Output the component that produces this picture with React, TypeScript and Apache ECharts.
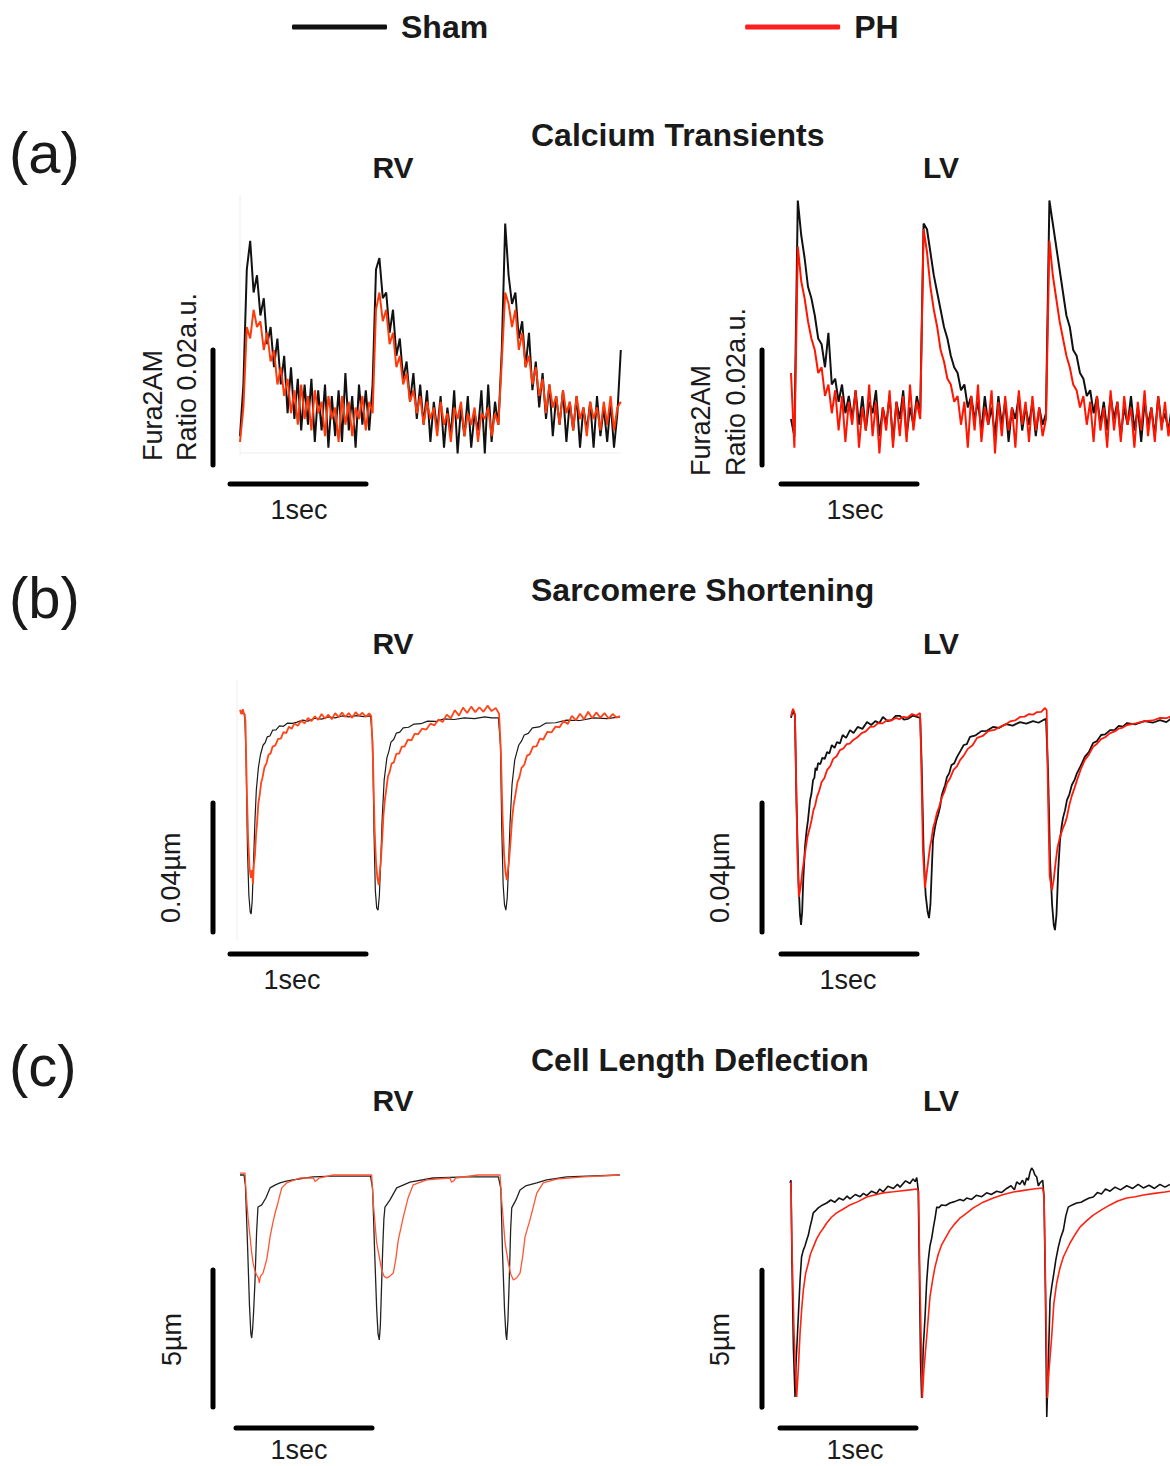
import React, { useEffect, useRef } from "react";
import * as echarts from "echarts";

// ---------- labels ----------
const LEGEND_NAMES = ["Sham", "PH"];
const PANEL_TITLES = ["Calcium Transients", "Sarcomere Shortening", "Cell Length Deflection"];
const PANEL_LETTERS = ["(a)", "(b)", "(c)"];
const SIDES = ["RV", "LV"];
const TIME_BAR_LABEL = "1sec";
const CA_LABELS = ["Fura2AM", "Ratio 0.02a.u."];
const SL_LABEL = "0.04µm";
const CL_LABEL = "5µm";

// ---------- scale bar sizes (data units) ----------
const TIME_BAR_MS = 1000; // 1 sec
const CA_BAR = 20; // 0.02 a.u. (units of 0.001 ratio)
const SL_BAR = 40; // 0.04 µm (in nm)
const CL_BAR = 5; // 5 µm

// ---------- (a) calcium transients: ratio above reference, units of 0.001, sampled every 25 ms ----------
const CA_DT_MS = 25;
const caRvSham = [
  5, 14, 34, 39, 30, 33, 26, 29, 21, 24,
  17, 22, 14, 19, 9, 17, 8, 15, 6, 14,
  7, 15, 4, 13, 6, 14, 3, 12, 5, 13,
  4, 16, 6, 12, 3, 14, 7, 13, 6, 14,
  34, 36, 29, 30, 23, 27, 19, 22, 15, 18,
  11, 16, 8, 14, 7, 13, 4, 11, 6, 12,
  3, 10, 5, 13, 2, 10, 5, 12, 3, 9,
  6, 13, 2, 14, 4, 11, 7, 20, 42, 33,
  28, 30, 22, 25, 17, 23, 13, 18, 10, 16,
  8, 14, 5, 12, 7, 13, 4, 11, 6, 12,
  3, 10, 6, 11, 3, 12, 5, 10, 4, 11,
  3, 9, 20,
];
const caRvPh = [
  4, 10, 24, 22, 27, 24, 25, 20, 23, 18,
  20, 14, 17, 12, 15, 9, 13, 7, 14, 8,
  12, 6, 13, 9, 11, 5, 12, 8, 10, 4,
  12, 7, 11, 5, 10, 8, 12, 6, 11, 9,
  27, 30, 25, 27, 21, 23, 17, 19, 14, 16,
  11, 13, 9, 12, 7, 11, 8, 10, 5, 11,
  7, 9, 4, 10, 8, 11, 5, 9, 7, 10,
  4, 9, 8, 10, 5, 9, 7, 18, 30, 28,
  24, 27, 20, 23, 17, 19, 14, 17, 12, 15,
  9, 14, 10, 12, 7, 13, 9, 11, 6, 12,
  8, 10, 5, 11, 8, 10, 6, 11, 7, 12,
  6, 10, 11,
];
const caLvSham = [
  8, 5, 46, 40, 36, 31, 29, 26, 22, 21,
  17, 23, 14, 15, 11, 14, 9, 12, 8, 13,
  7, 12, 6, 11, 9, 13, 5, 10, 7, 12,
  4, 11, 8, 13, 5, 10, 7, 12, 9, 42,
  41, 37, 33, 30, 27, 24, 22, 19, 17, 16,
  13, 14, 10, 12, 8, 11, 6, 12, 7, 10,
  5, 12, 7, 11, 4, 10, 8, 12, 6, 10,
  7, 11, 5, 10, 7, 9, 46, 42, 38, 34,
  30, 26, 24, 20, 19, 16, 15, 12, 13, 9,
  12, 7, 11, 6, 12, 8, 11, 5, 10, 7,
  12, 6, 10, 4, 11, 7, 10, 5, 12, 7,
  9, 6, 10,
];
const caLvPh = [
  16, 3, 38, 32, 29, 25, 22, 20, 16, 17,
  12, 14, 9, 13, 6, 12, 4, 11, 7, 13,
  3, 10, 6, 14, 5, 11, 2, 10, 6, 13,
  3, 11, 5, 12, 4, 14, 6, 11, 8, 41,
  37, 31, 27, 24, 20, 18, 15, 14, 11, 12,
  7, 11, 3, 12, 6, 14, 4, 10, 7, 13,
  2, 11, 5, 12, 6, 10, 3, 13, 7, 11,
  4, 12, 6, 10, 5, 8, 39, 33, 29, 25,
  22, 19, 17, 14, 13, 10, 12, 7, 11, 4,
  12, 6, 10, 3, 13, 6, 11, 4, 12, 7,
  10, 3, 11, 6, 13, 5, 10, 4, 12, 6,
  11, 5, 9,
];

// ---------- (b) sarcomere length change: [time ms, ΔSL nm] ----------
const slRvSham = [
  [0, 0.9], [20, 0.6], [35, 0.3], [45, -14], [55, -41.9], [65, -55.8], [75, -61.1], [82, -61.7], [90, -57.4], [100, -45],
  [110, -32.6], [120, -23.3], [135, -16.4], [150, -12.4], [170, -9.3], [185, -8.6], [200, -6.8], [220, -6.5], [240, -4.7], [265, -4.6],
  [290, -3.4], [320, -3.5], [350, -2.5], [385, -2.6], [420, -2.2], [460, -1.6], [500, -1.9], [550, -1.0], [600, -1.3], [650, -0.6],
  [700, -0.9], [750, -0.3], [800, -0.6], [860, -0.2], [910, -0.5], [960, -0.3],
  [975, -7.8], [985, -35.7], [995, -54.3], [1005, -59.8], [1015, -60.5], [1025, -55.8], [1035, -45], [1045, -32.6], [1060, -20.2], [1080, -13.3],
  [1095, -11.2], [1110, -8.4], [1130, -7.6], [1150, -5.6], [1175, -5.3], [1200, -4], [1240, -3.8], [1280, -2.8], [1330, -2.7], [1380, -1.9],
  [1440, -2.0], [1500, -1.2], [1575, -1.4], [1650, -0.9], [1725, -1.1], [1800, -0.6], [1850, -0.9], [1900, -0.9],
  [1915, -9.3], [1925, -35.7], [1935, -52.7], [1945, -58.9], [1955, -60.5], [1965, -56.7], [1975, -46.5], [1985, -34.1], [2000, -21.7], [2020, -14],
  [2035, -11.6], [2050, -9.3], [2070, -8.1], [2090, -6.2], [2120, -5.7], [2150, -4], [2200, -3.7], [2250, -2.5], [2320, -2.4], [2400, -1.6],
  [2500, -1.7], [2600, -0.9], [2700, -1.1], [2794, -0.6],
];
const slRvPh = [
  [0, 1.6], [10, 0.2], [20, 1.8], [30, 0.3], [40, -1.6], [50, -23.3], [60, -38.8], [70, -47.4], [80, -50.5], [88, -48.1],
  [95, -52.4], [102, -46.5], [110, -43.4], [118, -37.2], [126, -33.2], [135, -27.3], [145, -24.8], [155, -21.1], [165, -19.5], [180, -16.2],
  [195, -14.9], [210, -12.3], [225, -11.9], [240, -9.8], [260, -9.4], [280, -7.4], [300, -7.3], [320, -5.3], [340, -5.6], [360, -3.6],
  [380, -4.3], [400, -2.6], [425, -3.3], [450, -1.8], [475, -2.6], [500, -0.9], [525, -1.9], [550, -0.4], [575, -1.5], [600, 0.3],
  [625, -1.1], [650, 0.1], [675, -1.3], [700, 0.6], [725, -0.7], [750, 0.8], [775, -0.6], [800, 0.6], [825, -0.9], [850, 0.9],
  [875, -0.3], [900, 0.7], [925, -0.6], [950, 0.5], [965, -0.3],
  [978, -14], [990, -35.7], [1000, -45.6], [1010, -50.5], [1020, -52.7], [1028, -48.7], [1036, -45], [1045, -38.8], [1055, -31], [1065, -26.4],
  [1075, -23.3], [1088, -19.0], [1100, -17.7], [1115, -15.0], [1130, -14.8], [1150, -12.0], [1170, -12.0], [1190, -9.8], [1210, -9.8], [1235, -7.6],
  [1260, -7.9], [1285, -5.8], [1310, -6.0], [1340, -4.2], [1370, -4.5], [1400, -2.7], [1430, -3.2], [1460, -1.4], [1490, -2.2], [1520, 0.1],
  [1550, -1.0], [1580, 1.5], [1610, -0.2], [1640, 2.3], [1670, 0.6], [1700, 2.6], [1730, 0.9], [1760, 2.4], [1790, 1.0], [1820, 2.9],
  [1850, 1.2], [1880, 2.2], [1905, 0.4],
  [1918, -10.9], [1930, -31], [1942, -43.4], [1952, -48.7], [1962, -51.2], [1970, -48.1], [1980, -44.3], [1990, -38.8], [2000, -32.6], [2012, -27.9],
  [2025, -24.8], [2040, -20.8], [2055, -19.2], [2070, -16.4], [2090, -15.5], [2110, -12.6], [2130, -12.2], [2155, -9.8], [2180, -9.7], [2205, -7.3],
  [2230, -7.6], [2260, -5.2], [2290, -5.4], [2320, -3.6], [2350, -3.8], [2380, -1.8], [2410, -2.8], [2440, -0.3], [2470, -1.6], [2500, 0.4],
  [2530, -1.3], [2560, 1.0], [2590, -1.0], [2620, 0.8], [2650, -0.8], [2680, 0.6], [2710, -1.1], [2740, 0.3], [2770, -0.8], [2794, -0.3],
];
const slLvSham = [
  [0, -0.9], [15, 1.6], [29, -0.3], [40, -26.4], [55, -51.2], [66, -62], [74, -65.1], [82, -61.1], [90, -51.2], [103, -40.9],
  [115, -35.7], [125, -32.6], [140, -26.4], [150, -24.5], [162, -20.2], [172, -19.5], [180, -16.4], [190, -17.2], [199, -14.9], [215, -15.3],
  [230, -13.3], [248, -13.6], [265, -11.5], [282, -11.9], [300, -9.3], [320, -10.2], [338, -8.4], [360, -8.8], [380, -6.2], [405, -7.1],
  [434, -4.7], [460, -5.6], [490, -3.7], [525, -4.3], [559, -2.2], [590, -3.1], [620, -1.9], [650, -2.5], [676, -0.6], [710, -1.9],
  [740, -1.6], [770, -0.3], [801, -0.3], [830, -1.4], [860, -1.2], [895, -0.2], [926, -0.6], [950, -0.9],
  [960, -14], [975, -41.9], [990, -55.8], [1005, -61.1], [1015, -63], [1025, -58.9], [1035, -48.1], [1044, -38.8], [1058, -35], [1070, -32.6],
  [1083, -30.8], [1096, -28.5], [1108, -25], [1120, -23.3], [1133, -21.8], [1147, -19.2], [1163, -18.1], [1180, -15.5], [1200, -15], [1221, -13],
  [1245, -11.2], [1270, -9.3], [1293, -9.0], [1316, -6.8], [1358, -6.3], [1400, -5], [1440, -4.9], [1485, -3.7], [1530, -4.0], [1580, -2.8],
  [1630, -3.3], [1684, -2.2], [1730, -2.7], [1780, -1.9], [1820, -2.4], [1853, -1.6], [1875, -1.2],
  [1890, -17.1], [1905, -45], [1920, -58.9], [1932, -65.1], [1941, -66.7], [1952, -62], [1965, -48.1], [1978, -38.8], [1990, -34.5], [2000, -31.9],
  [2015, -29.5], [2029, -26.4], [2047, -24.6], [2065, -21.7], [2085, -20.1], [2103, -18], [2130, -15.8], [2160, -13], [2190, -11.5], [2221, -8.7],
  [2250, -8.1], [2280, -6.2], [2310, -6.0], [2346, -4.7], [2380, -4.6], [2410, -3.4], [2440, -3.6], [2471, -2.5], [2530, -2.9], [2600, -1.9],
  [2660, -2.4], [2713, -1.6], [2760, -2.2], [2801, -0.9],
];
const slLvPh = [
  [0, -0.3], [15, 1.9], [29, 0.3], [38, -20.2], [48, -45], [58, -56.4], [70, -53.6], [85, -48], [103, -42.8], [120, -38],
  [140, -34.7], [152, -32.4], [165, -29.5], [178, -28], [191, -25.4], [208, -23.4], [225, -20.8], [245, -19.6], [265, -17.1], [288, -15.9],
  [310, -13.6], [335, -12.8], [360, -10.9], [385, -10.4], [410, -9], [432, -8.9], [456, -7.8], [488, -6.9], [520, -5.6], [550, -5.1],
  [581, -3.7], [610, -3.6], [640, -2.5], [673, -2.6], [706, -1.6], [738, -1.7], [770, -0.9], [797, -1.3], [824, -0.6], [857, -0.8],
  [890, 0.3], [920, -0.2], [949, 0.6],
  [958, -15], [970, -42], [985, -53.6], [998, -49], [1010, -45], [1022, -40.9], [1033, -38.6], [1045, -35], [1058, -33.1], [1073, -30.4],
  [1090, -28.4], [1110, -25.5], [1128, -23.8], [1147, -21.1], [1170, -19.6], [1195, -17], [1220, -15.9], [1243, -14], [1270, -12.6], [1300, -10.5],
  [1335, -9.4], [1368, -7.1], [1410, -6.5], [1450, -5], [1495, -4.6], [1537, -3.7], [1575, -3.0], [1610, -2], [1648, -1.7], [1684, -0.6],
  [1718, -0.5], [1750, 0.3], [1780, 0.1], [1809, 0.9], [1840, 1.0], [1868, 2.2], [1880, 1.5],
  [1890, -25], [1902, -50], [1919, -54.3], [1932, -51], [1945, -46], [1960, -41], [1978, -37.8], [2000, -35], [2015, -33.6], [2029, -31.6],
  [2047, -27.8], [2065, -25], [2085, -22.6], [2103, -20.2], [2130, -16.9], [2160, -14], [2190, -12.3], [2221, -9.9], [2250, -8.9], [2280, -7.5],
  [2310, -6.9], [2346, -5.6], [2380, -5.1], [2410, -4.2], [2440, -3.9], [2471, -3.1], [2535, -2.6], [2600, -1.9], [2660, -1.7], [2713, -0.9],
  [2760, -1.0], [2801, -0.3],
];

// ---------- (c) cell length change: [time ms, ΔL µm] ----------
const clRvSham = [
  [0, 0], [30, 0], [40, -0.4], [55, -2.5], [70, -4.8], [80, -5.8], [86, -5.95], [93, -5.6], [100, -5.0], [110, -3.9],
  [122, -2.1], [132, -1.17], [160, -1.09], [190, -0.84], [221, -0.47], [260, -0.36], [294, -0.29], [340, -0.22], [390, -0.18], [480, -0.11],
  [537, -0.07], [684, -0.04], [960, -0.04],
  [975, -0.5], [990, -2.8], [1005, -4.9], [1015, -5.8], [1024, -6.02], [1032, -5.5], [1040, -4.2], [1049, -2.74], [1058, -1.6], [1066, -1.17],
  [1103, -0.91], [1152, -0.47], [1250, -0.26], [1419, -0.11], [1667, -0.07], [1900, -0.07],
  [1918, -0.5], [1930, -2.8], [1945, -4.9], [1955, -5.8], [1961, -6.02], [1970, -5.3], [1980, -3.8], [1990, -2.0], [1998, -1.2], [2030, -0.9],
  [2059, -0.55], [2100, -0.4], [2182, -0.29], [2255, -0.18], [2402, -0.07], [2794, 0],
];
const clRvPh = [
  [0, 0.07], [37, 0.07], [42, -0.4], [49, -0.91], [60, -1.6], [74, -2.26], [85, -2.8], [96, -3.21], [110, -3.5], [123, -3.65],
  [135, -3.76], [142, -3.94], [150, -3.7], [169, -3.58], [196, -3.1], [210, -2.65], [221, -2.26], [243, -1.71], [260, -1.35], [279, -1.02],
  [295, -0.7], [307, -0.47], [343, -0.29], [441, -0.11], [540, -0.11], [552, -0.24], [564, -0.2], [580, -0.11], [684, 0], [960, 0],
  [968, 0], [980, -1.02], [1005, -2.48], [1042, -3.47], [1060, -3.7], [1079, -3.76], [1100, -3.7], [1127, -3.58], [1145, -3.1], [1164, -2.37],
  [1201, -1.53], [1238, -0.8], [1274, -0.36], [1373, -0.18], [1544, -0.11], [1555, -0.26], [1570, -0.22], [1585, -0.11], [1750, 0], [1905, 0],
  [1912, 0], [1924, -0.91], [1949, -2.48], [1973, -3.21], [1990, -3.6], [2010, -3.83], [2035, -3.75], [2059, -3.58], [2078, -3.0], [2096, -2.26],
  [2132, -1.64], [2160, -1.1], [2182, -0.66], [2230, -0.29], [2329, -0.15], [2524, -0.07], [2794, 0],
];
const clLvSham = [
  [0, 0], [7, 0.1], [15, -3.0], [25, -6.0], [37, -7.81], [45, -6.5], [55, -5.5], [61, -4.89], [74, -3.54], [85, -2.7],
  [98, -2.45], [110, -2.3], [123, -2.08], [135, -1.9], [147, -1.61], [160, -1.35], [171, -1.09], [190, -1.0], [208, -0.91], [240, -0.8],
  [270, -0.73], [300, -0.62], [330, -0.7], [360, -0.55], [392, -0.62], [420, -0.48], [441, -0.58], [480, -0.42], [515, -0.5], [540, -0.38],
  [564, -0.46], [600, -0.3], [637, -0.38], [660, -0.22], [686, -0.32], [720, -0.12], [760, -0.2], [790, -0.05], [809, -0.15], [850, 0.08],
  [882, -0.02], [905, 0.15], [920, 0.05], [932, 0.2], [943, -0.26],
  [951, -3.0], [960, -6.5], [968, -7.85], [980, -6.0], [993, -4.89], [1005, -3.6], [1017, -2.81], [1029, -2.3], [1042, -2.01], [1055, -1.6],
  [1066, -1.3], [1079, -0.88], [1095, -0.9], [1115, -0.8], [1145, -0.82], [1176, -0.73], [1210, -0.68], [1250, -0.6], [1275, -0.65], [1299, -0.55],
  [1335, -0.6], [1370, -0.45], [1410, -0.5], [1446, -0.36], [1480, -0.42], [1520, -0.3], [1555, -0.35], [1593, -0.2], [1625, -0.1], [1650, -0.25],
  [1667, 0.04], [1690, -0.05], [1710, 0.1], [1725, -0.08], [1740, 0.18], [1752, 0.1], [1765, 0.4], [1777, 0.55], [1790, 0.45], [1800, 0.3],
  [1814, 0.22], [1826, -0.1], [1838, 0], [1858, 0.1],
  [1868, -0.5], [1878, -4.0], [1888, -8.54], [1900, -6.5], [1912, -4.27], [1924, -3.8], [1936, -3.43], [1955, -2.8], [1973, -2.34], [1990, -2.0],
  [2010, -1.72], [2028, -1.2], [2046, -0.88], [2075, -0.8], [2108, -0.73], [2140, -0.7], [2170, -0.62], [2200, -0.55], [2230, -0.51], [2260, -0.35],
  [2290, -0.4], [2320, -0.22], [2353, -0.3], [2390, -0.15], [2430, -0.25], [2476, -0.1], [2520, -0.2], [2560, -0.05], [2598, -0.18], [2640, -0.08],
  [2680, -0.2], [2720, -0.05], [2757, -0.15], [2794, -0.05],
];
const clLvPh = [
  [0, 0], [7, 0], [15, -2.5], [30, -5.5], [49, -7.81], [61, -6.8], [74, -5.47], [86, -4.6], [98, -3.91], [115, -3.3],
  [135, -2.92], [150, -2.6], [171, -2.34], [195, -2.05], [221, -1.82], [245, -1.65], [270, -1.46], [305, -1.25], [343, -1.09], [392, -0.95],
  [441, -0.8], [500, -0.68], [564, -0.51], [637, -0.42], [686, -0.36], [760, -0.32], [809, -0.29], [882, -0.25], [932, -0.22], [945, -0.3],
  [955, -3.5], [973, -7.85], [985, -6.8], [1005, -5.62], [1029, -4.16], [1050, -3.5], [1066, -3.07], [1090, -2.6], [1115, -2.26], [1150, -1.95],
  [1176, -1.72], [1210, -1.5], [1250, -1.28], [1299, -1.1], [1348, -0.91], [1420, -0.7], [1495, -0.55], [1570, -0.42], [1642, -0.33], [1720, -0.27],
  [1789, -0.22], [1858, -0.18],
  [1868, -0.5], [1880, -4.0], [1892, -7.85], [1905, -6.8], [1924, -5.62], [1940, -4.4], [1961, -3.65], [1985, -3.1], [2010, -2.7], [2059, -2.19],
  [2100, -1.85], [2132, -1.61], [2180, -1.38], [2230, -1.17], [2290, -0.98], [2353, -0.8], [2410, -0.66], [2476, -0.55], [2540, -0.5], [2598, -0.44],
  [2680, -0.38], [2757, -0.33], [2794, -0.3],
];

// ---------- layout ----------
const W = 1170;
const H = 1466;
const PX_PER_MS = 0.136;
const FONT = '"Liberation Sans", Arial, Helvetica, sans-serif';
const TEXT_COLOR = "#1a1a1a";

type Panel = {
  x0: number; y0: number; ppu: number;
  xMin: number; xMax: number; yMin: number; yMax: number;
  vBarT: number; vBarFrom: number; vBarLen: number;
  hBarV: number; hBarT0: number;
  sham: number[][]; ph: number[][];
  shamColor: string; phColor: string; shamWidth: number; phWidth: number;
};

const toPairs = (arr: number[]) => arr.map((v, i) => [i * CA_DT_MS, v]);

const panels: Panel[] = [
  { x0: 240, y0: 465, ppu: 5.75, xMin: -260, xMax: 2860, yMin: -6, yMax: 48,
    vBarT: -198.5, vBarFrom: 0, vBarLen: CA_BAR, hBarV: -3.3, hBarT0: -73.5,
    sham: toPairs(caRvSham), ph: toPairs(caRvPh), shamColor: "#111111", phColor: "#ff3a0a", shamWidth: 2, phWidth: 2 },
  { x0: 791, y0: 465, ppu: 5.75, xMin: -260, xMax: 2785, yMin: -6, yMax: 48,
    vBarT: -213, vBarFrom: 0, vBarLen: CA_BAR, hBarV: -3.3, hBarT0: -73.5,
    sham: toPairs(caLvSham), ph: toPairs(caLvPh), shamColor: "#111111", phColor: "#ff1500", shamWidth: 2, phWidth: 2 },
  { x0: 240, y0: 715, ppu: 3.225, xMin: -260, xMax: 2860, yMin: -80, yMax: 12,
    vBarT: -198.5, vBarFrom: -67.3, vBarLen: SL_BAR, hBarV: -74.1, hBarT0: -73.5,
    sham: slRvSham, ph: slRvPh, shamColor: "#1a1a1a", phColor: "#ff4518", shamWidth: 1.2, phWidth: 1.8 },
  { x0: 791, y0: 715, ppu: 3.225, xMin: -260, xMax: 2785, yMin: -80, yMax: 12,
    vBarT: -213, vBarFrom: -67.3, vBarLen: SL_BAR, hBarV: -74.1, hBarT0: -73.5,
    sham: slLvSham, ph: slLvPh, shamColor: "#111111", phColor: "#ff1a0a", shamWidth: 1.8, phWidth: 1.8 },
  { x0: 240, y0: 1175, ppu: 27.4, xMin: -260, xMax: 2860, yMin: -10, yMax: 1.2,
    vBarT: -198.5, vBarFrom: -8.47, vBarLen: CL_BAR, hBarV: -9.23, hBarT0: -29.4,
    sham: clRvSham, ph: clRvPh, shamColor: "#222222", phColor: "#ff5533", shamWidth: 1.3, phWidth: 1.3 },
  { x0: 790, y0: 1183, ppu: 27.4, xMin: -260, xMax: 2790, yMin: -10, yMax: 1.2,
    vBarT: -206, vBarFrom: -8.18, vBarLen: CL_BAR, hBarV: -8.94, hBarT0: -73.5,
    sham: clLvSham, ph: clLvPh, shamColor: "#111111", phColor: "#ff2211", shamWidth: 1.6, phWidth: 1.6 },
];

function buildOption() {
  const grid: any[] = [];
  const xAxis: any[] = [];
  const yAxis: any[] = [];
  const series: any[] = [];

  panels.forEach((p, i) => {
    grid.push({
      left: p.x0 + p.xMin * PX_PER_MS,
      top: p.y0 - p.yMax * p.ppu,
      width: (p.xMax - p.xMin) * PX_PER_MS,
      height: (p.yMax - p.yMin) * p.ppu,
      containLabel: false,
    });
    xAxis.push({ type: "value", gridIndex: i, min: p.xMin, max: p.xMax, show: false });
    yAxis.push({ type: "value", gridIndex: i, min: p.yMin, max: p.yMax, show: false });

    const base = { type: "line", xAxisIndex: i, yAxisIndex: i, showSymbol: false, symbol: "none", silent: true, animation: false };
    series.push({ ...base, name: LEGEND_NAMES[0], data: p.sham, lineStyle: { color: p.shamColor, width: p.shamWidth }, itemStyle: { color: p.shamColor }, z: 2 });
    series.push({ ...base, name: LEGEND_NAMES[1], data: p.ph, lineStyle: { color: p.phColor, width: p.phWidth }, itemStyle: { color: p.phColor }, z: 3 });
    // scale bars
    series.push({ ...base, name: "vbar" + i, clip: false,
      data: [[p.vBarT, p.vBarFrom], [p.vBarT, p.vBarFrom + p.vBarLen]],
      lineStyle: { color: "#000", width: 5, cap: "round" }, z: 4 });
    series.push({ ...base, name: "hbar" + i, clip: false,
      data: [[p.hBarT0, p.hBarV], [p.hBarT0 + TIME_BAR_MS, p.hBarV]],
      lineStyle: { color: "#000", width: 5, cap: "round" }, z: 4 });
  });

  // faint axis remnants in the RV panels
  const faint = { type: "line", showSymbol: false, symbol: "none", silent: true, animation: false, lineStyle: { color: "#eeeeee", width: 1 }, z: 1 };
  series.push({ ...faint, name: "ax0v", xAxisIndex: 0, yAxisIndex: 0, data: [[0, 1.7], [0, 47]] });
  series.push({ ...faint, name: "ax0h", xAxisIndex: 0, yAxisIndex: 0, data: [[0, 2.1], [2800, 2.1]] });
  series.push({ ...faint, name: "ax2v", xAxisIndex: 2, yAxisIndex: 2, data: [[-22, 10.9], [-22, -69.8]] });

  const txt = (text: string, x: number, y: number, size: number, weight: string, align: string, rotation = 0) => ({
    type: "text",
    x, y, rotation,
    silent: true,
    style: {
      text, x: 0, y: 0,
      fontSize: size, fontWeight: weight, fontFamily: FONT,
      fill: TEXT_COLOR,
      textAlign: align, align,
      textVerticalAlign: "middle", verticalAlign: "middle",
    },
  });

  const titleY = [135, 590, 1060];
  const sideY = [167, 643, 1100];
  const letterY = [152, 597, 1065];
  const secY = [510, 980, 1450];
  const secX = [[299, 855], [292, 848], [299, 855]];
  const elements: any[] = [];
  for (let r = 0; r < 3; r++) {
    elements.push(txt(PANEL_TITLES[r], 531, titleY[r], 32, "bold", "left"));
    elements.push(txt(SIDES[0], 393, sideY[r], 30, "bold", "center"));
    elements.push(txt(SIDES[1], 941, sideY[r], 30, "bold", "center"));
    elements.push(txt(PANEL_LETTERS[r], 9, letterY[r], 58, "normal", "left"));
    elements.push(txt(TIME_BAR_LABEL, secX[r][0], secY[r], 27, "normal", "center"));
    elements.push(txt(TIME_BAR_LABEL, secX[r][1], secY[r], 27, "normal", "center"));
  }
  const rot = Math.PI / 2;
  elements.push(txt(CA_LABELS[0], 153, 461, 27, "normal", "left", rot));
  elements.push(txt(CA_LABELS[1], 187, 461, 27, "normal", "left", rot));
  elements.push(txt(CA_LABELS[0], 701, 476, 27, "normal", "left", rot));
  elements.push(txt(CA_LABELS[1], 736, 476, 27, "normal", "left", rot));
  elements.push(txt(SL_LABEL, 171, 923, 27, "normal", "left", rot));
  elements.push(txt(SL_LABEL, 720, 923, 27, "normal", "left", rot));
  elements.push(txt(CL_LABEL, 172, 1366, 27, "normal", "left", rot));
  elements.push(txt(CL_LABEL, 720, 1366, 27, "normal", "left", rot));

  return {
    animation: false,
    backgroundColor: "#ffffff",
    legend: {
      data: [
        { name: LEGEND_NAMES[0], itemStyle: { color: "#111111" } },
        { name: LEGEND_NAMES[1], itemStyle: { color: "#ff1f1f" } },
      ],
      left: 287,
      top: 6,
      icon: "roundRect",
      itemWidth: 95,
      itemHeight: 5,
      itemGap: 257,
      selectedMode: false,
      textStyle: { fontSize: 32, fontWeight: "bold", fontFamily: FONT, color: TEXT_COLOR, padding: [0, 0, 0, 9] },
    },
    grid,
    xAxis,
    yAxis,
    series,
    graphic: { elements },
  };
}

export default function App() {
  const ref = useRef<HTMLDivElement>(null);
  useEffect(() => {
    if (!ref.current) return;
    const chart = echarts.init(ref.current, undefined, { renderer: "svg" });
    chart.setOption(buildOption() as any);
    return () => chart.dispose();
  }, []);
  return <div ref={ref} style={{ position: "absolute", left: 0, top: 0, width: W, height: H, background: "#fff" }} />;
}
